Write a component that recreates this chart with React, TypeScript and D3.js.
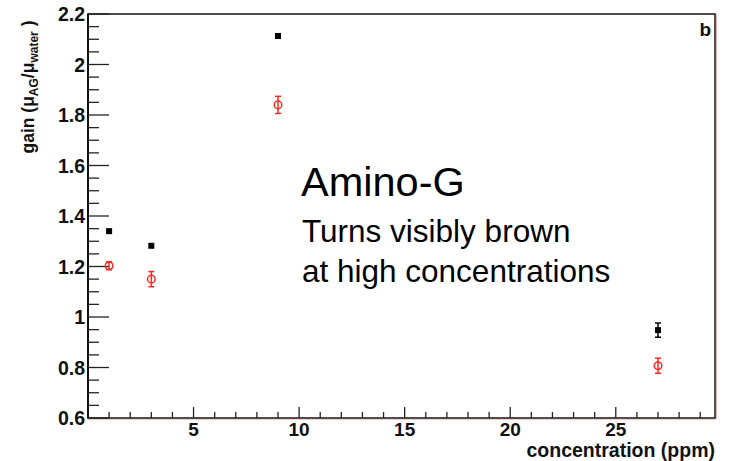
import React from "react";
import * as d3 from "d3";

const concentrations = [1, 3, 9, 27];
const gainBlack = [1.34, 1.282, 2.113, 0.948];
const errBlack = [0.004, 0.004, 0.004, 0.028];
const gainRed = [1.203, 1.15, 1.84, 0.807];
const errRed = [0.016, 0.03, 0.034, 0.03];
const xTickLabels = [5, 10, 15, 20, 25];
const yTickLabels = ["0.6", "0.8", "1", "1.2", "1.4", "1.6", "1.8", "2", "2.2"];
const xDomain = [0, 29.7];
const yDomain = [0.6, 2.2];

const W = 729;
const H = 461;
const L = 88, R = 715, T = 14, B = 418;
const FONT = "'Liberation Sans', Arial, Helvetica, sans-serif";

export default function App() {
  const x = d3.scaleLinear().domain(xDomain).range([L, R]);
  const y = d3.scaleLinear().domain(yDomain).range([B, T]);
  const xMinor = d3.range(1, 30, 1).filter((v) => v <= xDomain[1]);
  const yMinor = d3.range(0, 33).map((i) => 0.6 + i * 0.05).filter((v) => v < 2.2001);
  const red = "#ff2a1f";

  return (
    <svg
      width={W}
      height={H}
      style={{ position: "fixed", left: 0, top: 0, background: "#fff" }}
      fontFamily={FONT}
    >
      <rect x={0} y={0} width={W} height={H} fill="#fff" />
      {/* faint pink shadow on bottom and right */}
      <line x1={L} x2={R + 1} y1={B + 1.5} y2={B + 1.5} stroke="#f7c8c8" strokeWidth={1} />
      <line x1={R + 1.5} x2={R + 1.5} y1={T} y2={B + 1} stroke="#f0b8b8" strokeWidth={1} />
      {/* frame */}
      <rect x={L} y={T} width={R - L} height={B - T} fill="none" stroke="#222" strokeWidth={1.6} />
      <line x1={L} x2={L} y1={T} y2={B} stroke="#111" strokeWidth={2} />

      {/* y ticks */}
      {yMinor.map((v, i) => {
        const major = Math.abs(Math.round(v * 5) - v * 5) < 1e-6;
        return (
          <line key={"ym" + i} x1={L} x2={L + (major ? 21 : 11)} y1={y(v)} y2={y(v)} stroke="#222" strokeWidth={1.3} />
        );
      })}
      {yTickLabels.map((t) => (
        <text key={"yl" + t} x={85} y={y(+t)} dy="0.36em" textAnchor="end" fontSize={19.5} fontWeight="bold" fill="#111">
          {t}
        </text>
      ))}

      {/* x ticks */}
      {xMinor.map((v) => {
        const major = v % 5 === 0;
        return (
          <line key={"xm" + v} x1={x(v)} x2={x(v)} y1={B} y2={B - (major ? 11 : 6)} stroke="#222" strokeWidth={1.3} />
        );
      })}
      {xTickLabels.map((t) => (
        <text key={"xl" + t} x={x(t)} y={436} textAnchor="middle" fontSize={19} fontWeight="bold" fill="#111">
          {t}
        </text>
      ))}

      {/* axis titles */}
      <text x={R} y={457} textAnchor="end" fontSize={19.5} fontWeight="bold" fill="#111">
        concentration (ppm)
      </text>
      <text transform="translate(34,87) rotate(-90)" textAnchor="middle" fontSize={17.5} fontWeight="bold" fill="#111">
        gain (μ<tspan fontSize={12} dy={4}>AG</tspan>
        <tspan dy={-4}>/μ</tspan>
        <tspan fontSize={12} dy={4}>water</tspan>
        <tspan dy={-4}> )</tspan>
      </text>
      <text x={711} y={36} textAnchor="end" fontSize={19} fontWeight="bold" fill="#111">
        b
      </text>

      {/* black series */}
      {concentrations.map((c, i) => (
        <g key={"b" + i}>
          <line x1={x(c)} x2={x(c)} y1={y(gainBlack[i] - errBlack[i])} y2={y(gainBlack[i] + errBlack[i])} stroke="#000" strokeWidth={1.5} />
          {errBlack[i] > 0.01 && (
            <>
              <line x1={x(c) - 3} x2={x(c) + 3} y1={y(gainBlack[i] - errBlack[i])} y2={y(gainBlack[i] - errBlack[i])} stroke="#000" strokeWidth={1.5} />
              <line x1={x(c) - 3} x2={x(c) + 3} y1={y(gainBlack[i] + errBlack[i])} y2={y(gainBlack[i] + errBlack[i])} stroke="#000" strokeWidth={1.5} />
            </>
          )}
          <rect x={x(c) - 3} y={y(gainBlack[i]) - 3} width={6} height={6} fill="#000" />
        </g>
      ))}

      {/* red series */}
      {concentrations.map((c, i) => (
        <g key={"r" + i}>
          <line x1={x(c)} x2={x(c)} y1={y(gainRed[i] - errRed[i])} y2={y(gainRed[i] + errRed[i])} stroke={red} strokeWidth={1.5} />
          <line x1={x(c) - 3} x2={x(c) + 3} y1={y(gainRed[i] - errRed[i])} y2={y(gainRed[i] - errRed[i])} stroke={red} strokeWidth={1.5} />
          <line x1={x(c) - 3} x2={x(c) + 3} y1={y(gainRed[i] + errRed[i])} y2={y(gainRed[i] + errRed[i])} stroke={red} strokeWidth={1.5} />
          <circle cx={x(c)} cy={y(gainRed[i])} r={3.8} fill="none" stroke={red} strokeWidth={1.5} />
        </g>
      ))}

      {/* annotation */}
      <text x={301} y={196} fontSize={41.5} fill="#000">Amino-G</text>
      <text x={302} y={242} fontSize={31.5} fill="#000">Turns visibly brown</text>
      <text x={302} y={282} fontSize={31.5} fill="#000">at high concentrations</text>
    </svg>
  );
}
